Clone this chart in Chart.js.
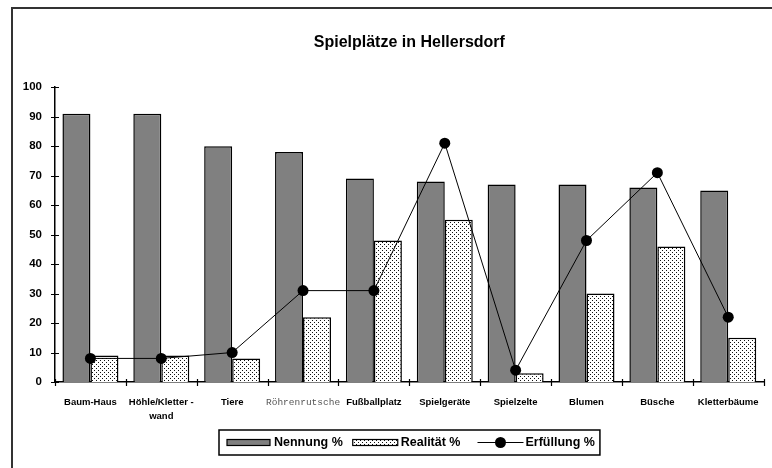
<!DOCTYPE html>
<html>
<head>
<meta charset="utf-8">
<script src="https://cdn.jsdelivr.net/npm/chart.js@4.4.1/dist/chart.umd.min.js"></script>
<style>
  html, body { margin: 0; padding: 0; background: #fff; }
  #wrap { width: 772px; height: 468px; position: relative; }
</style>
</head>
<body>
<div id="wrap"><canvas id="chart" width="772" height="468"></canvas></div>
<script>
(function() {
    'use strict';

    // Kategorien und Werte
    var categories = ['Baum-Haus', ['Höhle/Kletter -', 'wand'], 'Tiere', 'Röhrenrutsche', 'Fußballplatz',
        'Spielgeräte', 'Spielzelte', 'Blumen', 'Büsche', 'Kletterbäume'];
    var nennung = [91, 91, 80, 78, 69, 68, 67, 67, 66, 65];
    var realitaet = [9, 9, 8, 22, 48, 55, 3, 30, 46, 15];
    var erfuellung = [8, 8, 10, 31, 31, 81, 4, 48, 71, 22];
    var yTicks = [0, 10, 20, 30, 40, 50, 60, 70, 80, 90, 100];

    var FONT = "'Liberation Sans', Arial, sans-serif";

    function dotPattern() {
        var c = document.createElement('canvas');
        c.width = 4; c.height = 4;
        var g = c.getContext('2d');
        g.fillStyle = '#fff';
        g.fillRect(0, 0, 4, 4);
        g.fillStyle = '#111';
        g.fillRect(0, 0, 1, 1);
        g.fillRect(2, 2, 1, 1);
        return document.getElementById('chart').getContext('2d').createPattern(c, 'repeat');
    }
    var pattern = dotPattern();

    // Rahmen um die Grafik
    var framePlugin = {
        id: 'frame',
        beforeDraw: function(chart) {
            var ctx = chart.ctx;
            ctx.save();
            ctx.strokeStyle = '#333';
            ctx.lineWidth = 2;
            ctx.strokeRect(12, 8, 820, 520);
            ctx.restore();
        }
    };

    // Achsenstriche, die die Achse kreuzen
    var tickPlugin = {
        id: 'crossTicks',
        afterDatasetsDraw: function(chart) {
            var ctx = chart.ctx;
            var xs = chart.scales.x, ys = chart.scales.y;
            ctx.save();
            ctx.strokeStyle = '#000';
            ctx.lineWidth = 1.2;
            ctx.beginPath();
            yTicks.forEach(function(v) {
                var py = Math.round(ys.getPixelForValue(v)) + 0.5;
                ctx.moveTo(xs.left - 4, py);
                ctx.lineTo(xs.left + 4, py);
            });
            var w = (xs.right - xs.left) / categories.length;
            for (var i = 0; i <= categories.length; i++) {
                var px = Math.round(xs.left + i * w) + 0.5;
                ctx.moveTo(px, ys.bottom - 3);
                ctx.lineTo(px, ys.bottom + 4);
            }
            ctx.stroke();
            ctx.restore();
        }
    };

    // Legende mit Rahmen
    var legendPlugin = {
        id: 'boxLegend',
        afterDraw: function(chart) {
            var ctx = chart.ctx;
            var top = 430, h = 25, cy = top + h / 2;
            ctx.save();
            ctx.font = 'bold 12.5px ' + FONT;
            ctx.textBaseline = 'middle';
            ctx.textAlign = 'left';
            ctx.fillStyle = '#000';
            ctx.strokeStyle = '#000';

            var x = 227;
            ctx.lineWidth = 1.2;
            ctx.fillStyle = '#808080';
            ctx.fillRect(x, cy - 3, 43, 6);
            ctx.strokeRect(x, cy - 3, 43, 6);
            x += 47;
            ctx.fillStyle = '#000';
            ctx.fillText(chart.data.datasets[1].label, x, cy);
            x += ctx.measureText(chart.data.datasets[1].label).width + 10;

            ctx.fillStyle = pattern;
            ctx.fillRect(x, cy - 3, 45, 6);
            ctx.strokeRect(x, cy - 3, 45, 6);
            x += 48;
            ctx.fillStyle = '#000';
            ctx.fillText(chart.data.datasets[2].label, x, cy);
            x += ctx.measureText(chart.data.datasets[2].label).width + 17;

            ctx.lineWidth = 1;
            ctx.beginPath();
            ctx.moveTo(x, cy);
            ctx.lineTo(x + 46, cy);
            ctx.stroke();
            ctx.beginPath();
            ctx.arc(x + 23, cy, 5.5, 0, Math.PI * 2);
            ctx.fill();
            x += 48;
            ctx.fillText(chart.data.datasets[0].label, x, cy);
            var right = x + ctx.measureText(chart.data.datasets[0].label).width + 5;

            ctx.lineWidth = 1.5;
            ctx.strokeRect(219, top, right - 219, h);
            ctx.restore();
        }
    };

    new Chart(document.getElementById('chart').getContext('2d'), {
        data: {
            labels: categories,
            datasets: [
                {
                    type: 'line',
                    label: 'Erfüllung %',
                    data: erfuellung,
                    borderColor: '#000',
                    backgroundColor: '#000',
                    borderWidth: 1,
                    pointRadius: 5.5,
                    pointBackgroundColor: '#000',
                    pointBorderWidth: 0,
                    tension: 0,
                    order: 0
                },
                {
                    type: 'bar',
                    label: 'Nennung %',
                    data: nennung,
                    backgroundColor: '#808080',
                    borderColor: '#000',
                    borderWidth: 1.5,
                    categoryPercentage: 0.79,
                    barPercentage: 1,
                    order: 1
                },
                {
                    type: 'bar',
                    label: 'Realität %',
                    data: realitaet,
                    backgroundColor: pattern,
                    borderColor: '#000',
                    borderWidth: 1.5,
                    categoryPercentage: 0.79,
                    barPercentage: 1,
                    order: 1
                }
            ]
        },
        options: {
            responsive: false,
            animation: false,
            events: [],
            layout: { padding: { left: 12, right: 7, top: 0, bottom: 0 } },
            scales: {
                x: {
                    offset: true,
                    grid: { display: false, drawTicks: false },
                    border: { display: true, color: '#000', width: 1.5 },
                    ticks: {
                        padding: 13,
                        maxRotation: 0,
                        autoSkip: false,
                        color: function(c) { return c.index === 3 ? '#555' : '#000'; },
                        font: function(c) {
                            if (c.index === 3) {
                                return { family: "'Liberation Mono', 'Courier New', monospace", size: 9.5, weight: 'normal', lineHeight: 1.5 };
                            }
                            return { family: FONT, size: 9.5, weight: 'bold', lineHeight: 1.5 };
                        }
                    },
                    afterFit: function(s) { s.height = 86; }
                },
                y: {
                    min: 0,
                    max: 100,
                    grid: { display: false, drawTicks: false },
                    border: { display: true, color: '#000', width: 1.5 },
                    ticks: {
                        stepSize: 10,
                        padding: 13,
                        color: '#000',
                        font: { family: FONT, size: 11.5, weight: 'bold' }
                    },
                    afterFit: function(s) { s.width = 43; }
                }
            },
            plugins: {
                legend: { display: false },
                tooltip: { enabled: false },
                title: {
                    display: true,
                    fullSize: false,
                    text: 'Spielplätze in Hellersdorf',
                    color: '#000',
                    font: { family: FONT, size: 16, weight: 'bold', lineHeight: 1.2 },
                    padding: { top: 33, bottom: 35 }
                }
            }
        },
        plugins: [framePlugin, tickPlugin, legendPlugin]
    });
})();
</script>
</body>
</html>
